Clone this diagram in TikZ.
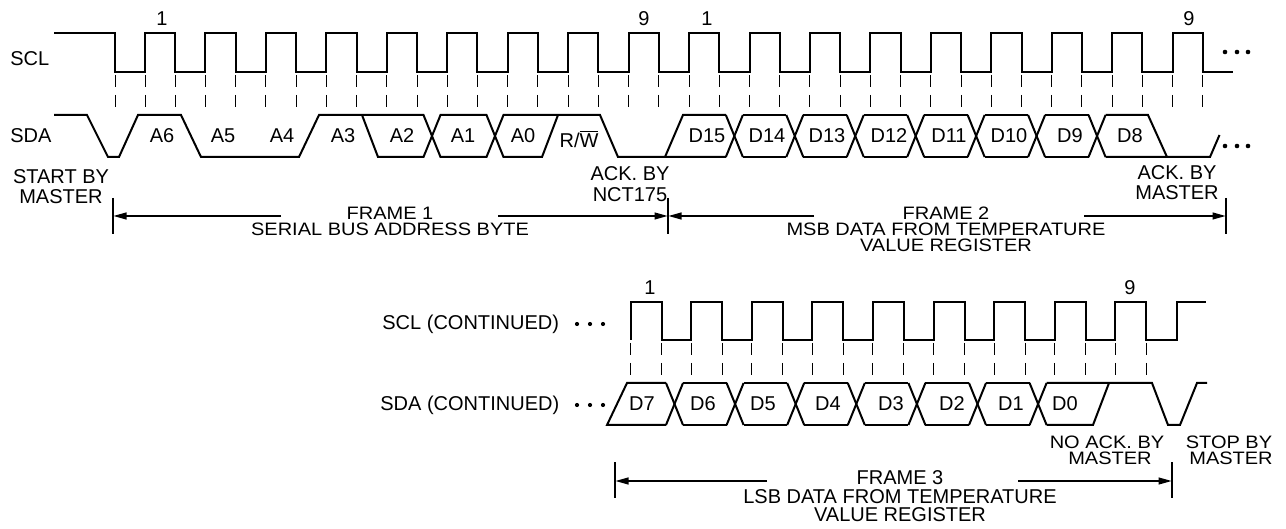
\documentclass[tikz,border=0pt]{standalone}
\usepackage{fontspec}
\usepackage{graphicx}
\setmainfont{Liberation Sans}
\usetikzlibrary{arrows.meta}
\newcommand\frtxt[1]{\scalebox{1}[0.9]{#1}}
\begin{document}
\begin{tikzpicture}[x=0.5pt,y=-0.5pt,
  sig/.style={line width=1pt, line join=miter},
  tick/.style={line width=0.5pt, dash pattern=on 6pt off 4pt},
  lbl/.style={font=\fontsize{10}{12}\selectfont, inner sep=0pt, anchor=base},
  lblw/.style={lbl, anchor=base west},
  dim/.style={line width=0.6pt},
  arr/.style={dim, -{Triangle[length=6.5pt,width=3.5pt]}},
  dotf/.style={fill=black}]
\useasboundingbox (0,0) rectangle (1286,529);

% ---------------- top SCL ----------------
\draw[sig] (54,33) -- (115,33) -- (115,72)
  \foreach \n in {1,...,18} { -- ({145+60.45*(\n-1)},72) -- ++(0,-39) -- ++(30.2,0) -- ++(0,39) } -- (1233,72);
\draw[tick] (115,75) -- (115,108);
\foreach \n in {1,...,18} {
  \draw[tick] ({145+60.45*(\n-1)},75) -- ++(0,33);
  \draw[tick] ({175.2+60.45*(\n-1)},75) -- ++(0,33);
}

% ---------------- top SDA ----------------
\draw[sig] (54,115) -- (87,115) -- (108,157) -- (119,157) -- (138,115) -- (181,115) -- (201,157)
  -- (299,157) -- (319,115) -- (423.5,115) -- (440.5,157) -- (486.5,157) -- (503.5,115)
  -- (600,115) -- (618,157) -- (725.9,157);
\draw[sig] (362,115) -- (378,157) -- (423.5,157) -- (440.5,115) -- (486.5,115) -- (503.5,157)
  -- (542,157) -- (558,115);
\draw[sig] (665,157) -- (683,115) -- (725.9,115);
\foreach \n in {10,...,16} {
  \pgfmathsetmacro\cc{190.3+60.45*(\n-1)}
  \draw[sig] ({\cc-8.5},115) -- ({\cc+8.5},157);
  \draw[sig] ({\cc-8.5},157) -- ({\cc+8.5},115);
}
\foreach \n in {10,...,15} {
  \pgfmathsetmacro\cc{190.3+60.45*(\n-1)}
  \draw[sig] ({\cc+8.5},115) -- ({\cc+60.45-8.5},115);
  \draw[sig] ({\cc+8.5},157) -- ({\cc+60.45-8.5},157);
}
\draw[sig] (1105.6,115) -- (1148,115) -- (1167,157);
\draw[sig] (1105.6,157) -- (1210,157) -- (1219.5,135);

% dots top right
\foreach \xx in {1225,1237,1248} {
  \fill[dotf] (\xx,52) circle[radius=1.15pt];
  \fill[dotf] (\xx,146) circle[radius=1.15pt];
}

% ---------------- top labels ----------------
\node[lblw] (scl) at (10,66) {SCL};
\node[lblw] (sda) at (10,143) {SDA};
\node[lbl] (c1a) at (162,26) {1};
\node[lbl] (c9a) at (644,26) {9};
\node[lbl] (c1b) at (707,26) {1};
\node[lbl] (c9b) at (1189,26) {9};
\node[lbl] (a6) at (162,143) {A6};
\node[lbl] (a5) at (223,143) {A5};
\node[lbl] (a4) at (282,143) {A4};
\node[lbl] (a3) at (343,143) {A3};
\node[lbl] (a2) at (402,143) {A2};
\node[lbl] (a1) at (463,143) {A1};
\node[lbl] (a0) at (523,143) {A0};
\node[lbl] (rw) at (579,148) {R/$\overline{\hbox{W}}$};
\node[lbl] (d15) at (707,143) {D15};
\node[lbl] (d14) at (767,143) {D14};
\node[lbl] (d13) at (827,143) {D13};
\node[lbl] (d12) at (889,143) {D12};
\node[lbl] (d11) at (949,143) {D11};
\node[lbl] (d10) at (1009,143) {D10};
\node[lbl] (d9) at (1070,143) {D9};
\node[lbl] (d8) at (1130,143) {D8};

\node[lbl] (st1) at (61,184) {START BY};
\node[lbl] (st2) at (61,204) {MASTER};
\node[lbl] (an1) at (630,181) {ACK. BY};
\node[lbl] (an2) at (630,202) {NCT175};
\node[lbl] (am1) at (1177,180) {ACK. BY};
\node[lbl] (am2) at (1177,200) {MASTER};

% ---------------- frames 1 and 2 ----------------
\coordinate (b1t) at (113,198); \coordinate (b1b) at (113,234);
\coordinate (b2t) at (668,198); \coordinate (b2b) at (668,234);
\coordinate (b3t) at (1226,198); \coordinate (b3b) at (1226,234);
\draw[dim] (b1t) -- (b1b);
\draw[dim] (b2t) -- (b2b);
\draw[dim] (b3t) -- (b3b);
\coordinate (f1a) at (281,216); \coordinate (f1ae) at (113.5,216);
\coordinate (f1b) at (498,216); \coordinate (f1be) at (667.5,216);
\coordinate (f2a) at (814,216); \coordinate (f2ae) at (668.5,216);
\coordinate (f2b) at (1084,216); \coordinate (f2be) at (1225.5,216);
\draw[arr] (f1a) -- (f1ae);
\draw[arr] (f1b) -- (f1be);
\draw[arr] (f2a) -- (f2ae);
\draw[arr] (f2b) -- (f2be);
\node[lbl] (fr1) at (390,219.5) {\frtxt{FRAME 1}};
\node[lbl] (fr1b) at (390,235.5) {\frtxt{SERIAL BUS ADDRESS BYTE}};
\node[lbl] (fr2) at (946,219.5) {\frtxt{FRAME 2}};
\node[lbl] (fr2b) at (946,235.5) {\frtxt{MSB DATA FROM TEMPERATURE}};
\node[lbl] (fr2c) at (946,251.5) {\frtxt{VALUE REGISTER}};

% ---------------- bottom SCL ----------------
\draw[sig] (630.5,340)
  \foreach \n in {1,...,9} { -- ({630.5+60.6*(\n-1)},340) -- ++(0,-38) -- ++(31,0) -- ++(0,38) }
  -- (1177,340) -- (1177,302) -- (1206,302);
\foreach \n in {1,...,9} {
  \draw[tick] ({630.5+60.6*(\n-1)},343) -- ++(0,34);
  \draw[tick] ({661.5+60.6*(\n-1)},343) -- ++(0,34);
}

% ---------------- bottom SDA ----------------
\draw[sig] (666,425) -- (607,425) -- (627,383) -- (666,383);
\foreach \n in {1,...,7} {
  \pgfmathsetmacro\cc{674.5+60.6*(\n-1)}
  \draw[sig] ({\cc-8.5},383) -- ({\cc+8.5},425);
  \draw[sig] ({\cc-8.5},425) -- ({\cc+8.5},383);
}
\foreach \n in {1,...,6} {
  \pgfmathsetmacro\cc{674.5+60.6*(\n-1)}
  \draw[sig] ({\cc+8.5},383) -- ({\cc+60.6-8.5},383);
  \draw[sig] ({\cc+8.5},425) -- ({\cc+60.6-8.5},425);
}
\draw[sig] (1046.6,383) -- (1152,383) -- (1168,425) -- (1180,425) -- (1197,383) -- (1207,383);
\draw[sig] (1046.6,425) -- (1093,425) -- (1109,383);

% dots bottom
\foreach \xx in {577,590,603} {
  \fill[dotf] (\xx,324) circle[radius=1.05pt];
  \fill[dotf] (\xx,405) circle[radius=1.05pt];
}

% ---------------- bottom labels ----------------
\node[lblw] (sclc) at (382,330) {SCL (CONTINUED)};
\node[lblw] (sdac) at (380,410) {SDA (CONTINUED)};
\node[lbl] (c1c) at (650,295) {1};
\node[lbl] (c9c) at (1130,295) {9};
\node[lbl] (d7) at (642,410) {D7};
\node[lbl] (d6) at (703,410) {D6};
\node[lbl] (d5) at (763,410) {D5};
\node[lbl] (d4) at (828,410) {D4};
\node[lbl] (d3) at (891,410) {D3};
\node[lbl] (d2) at (952,410) {D2};
\node[lbl] (d1) at (1011,410) {D1};
\node[lbl] (d0) at (1065,410) {D0};
\node[lbl] (na1) at (1107,448) {\frtxt{NO ACK. BY}};
\node[lbl] (na2) at (1110,465) {\frtxt{MASTER}};
\node[lbl] (sp1) at (1229,448) {\frtxt{STOP BY}};
\node[lbl] (sp2) at (1231,465) {\frtxt{MASTER}};

% ---------------- frame 3 ----------------
\coordinate (b4t) at (615,462); \coordinate (b4b) at (615,498);
\coordinate (b5t) at (1172,462); \coordinate (b5b) at (1172,498);
\draw[dim] (b4t) -- (b4b);
\draw[dim] (b5t) -- (b5b);
\coordinate (f3a) at (767,481); \coordinate (f3ae) at (615.5,481);
\coordinate (f3b) at (1018,481); \coordinate (f3be) at (1171.5,481);
\draw[arr] (f3a) -- (f3ae);
\draw[arr] (f3b) -- (f3be);
\node[lbl] (fr3) at (900,484.5) {FRAME 3};
\node[lbl] (fr3b) at (900,503) {LSB DATA FROM TEMPERATURE};
\node[lbl] (fr3c) at (900,521.5) {VALUE REGISTER};
\end{tikzpicture}
\end{document}
